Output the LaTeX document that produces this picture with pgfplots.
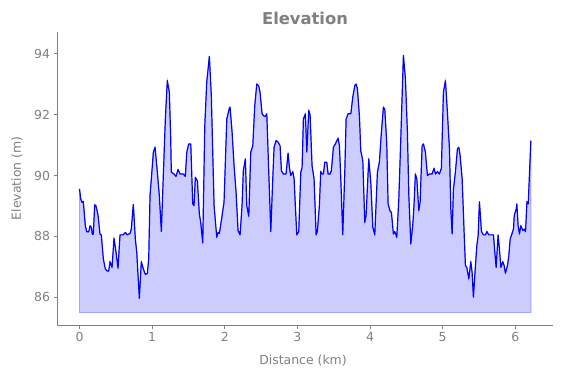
\documentclass[border=0pt]{standalone}
\usepackage{pgfplots}
\pgfplotsset{compat=1.18}
\usepackage{pgfplotstable}
\usepackage{fontspec}
\setmainfont{DejaVu Sans}
\definecolor{txtgray}{HTML}{808080}
\pgfplotstableread{
x y
0.000 89.56
0.017 89.23
0.034 89.12
0.052 89.15
0.080 88.35
0.099 88.15
0.127 88.15
0.145 88.35
0.163 88.30
0.176 88.07
0.190 88.07
0.209 89.04
0.227 89.00
0.255 88.70
0.282 88.07
0.300 88.05
0.328 87.26
0.355 86.93
0.383 86.86
0.402 86.86
0.420 87.17
0.448 86.98
0.475 87.94
0.503 87.48
0.530 86.95
0.558 88.05
0.603 88.05
0.631 88.13
0.658 88.05
0.696 88.10
0.713 88.24
0.741 89.05
0.769 87.91
0.788 87.48
0.824 85.96
0.851 87.17
0.879 86.93
0.906 86.75
0.934 86.78
0.953 87.26
0.971 89.34
0.989 89.89
1.017 90.77
1.040 90.93
1.072 90.11
1.099 89.34
1.127 88.16
1.154 90.00
1.182 91.86
1.209 93.12
1.237 92.74
1.256 91.20
1.264 90.11
1.302 90.05
1.329 89.97
1.357 90.20
1.385 90.05
1.430 90.05
1.457 89.97
1.477 90.77
1.504 91.04
1.532 91.04
1.559 89.07
1.577 89.01
1.595 89.94
1.623 89.83
1.650 88.74
1.669 88.46
1.697 87.78
1.725 91.64
1.752 93.07
1.788 93.92
1.815 92.63
1.853 89.01
1.890 87.97
1.908 88.13
1.926 88.10
1.953 88.52
1.990 89.12
2.028 91.86
2.063 92.21
2.073 92.25
2.101 91.43
2.128 90.33
2.156 89.45
2.183 88.19
2.211 88.05
2.238 89.01
2.256 90.16
2.284 90.55
2.303 89.01
2.331 88.66
2.358 90.77
2.386 90.98
2.413 92.30
2.441 93.01
2.468 92.95
2.486 92.74
2.514 92.03
2.541 91.95
2.559 91.95
2.579 92.03
2.606 90.11
2.634 88.16
2.661 89.89
2.679 90.93
2.707 91.15
2.734 91.10
2.762 90.98
2.780 90.16
2.807 90.05
2.844 90.05
2.872 90.74
2.890 90.27
2.909 90.00
2.937 90.13
2.955 89.89
2.972 89.01
2.992 88.05
3.019 88.16
3.047 90.11
3.065 90.27
3.083 91.86
3.110 92.03
3.130 90.77
3.157 92.14
3.175 92.00
3.202 90.33
3.230 89.89
3.258 88.05
3.275 88.16
3.303 89.01
3.322 90.13
3.340 90.05
3.358 90.05
3.377 90.44
3.405 90.44
3.423 90.05
3.451 90.05
3.468 90.16
3.496 90.93
3.523 91.04
3.561 91.23
3.579 90.98
3.598 89.89
3.625 88.05
3.653 90.11
3.671 91.86
3.698 92.03
3.736 92.03
3.763 92.58
3.791 92.96
3.809 93.01
3.827 92.85
3.854 91.97
3.873 90.82
3.901 90.49
3.928 88.46
3.946 88.68
3.983 90.55
4.011 89.78
4.039 88.30
4.066 88.05
4.102 90.11
4.129 90.44
4.157 91.43
4.185 92.25
4.204 92.17
4.231 91.05
4.249 89.07
4.277 88.83
4.295 88.79
4.322 88.08
4.341 88.16
4.369 87.97
4.397 89.23
4.424 91.20
4.460 93.95
4.488 93.18
4.515 91.43
4.535 89.34
4.562 87.75
4.590 88.41
4.607 89.07
4.625 90.05
4.645 89.89
4.672 88.85
4.690 89.12
4.718 90.98
4.736 91.04
4.763 90.77
4.791 90.00
4.818 90.05
4.855 90.05
4.882 90.24
4.901 90.05
4.928 90.13
4.956 90.05
4.983 90.24
5.011 92.74
5.039 93.12
5.066 92.08
5.094 90.88
5.113 88.90
5.131 88.08
5.149 89.56
5.176 90.11
5.204 90.88
5.223 90.93
5.241 90.66
5.269 89.89
5.296 88.13
5.314 87.04
5.333 86.98
5.361 86.60
5.388 87.17
5.406 86.82
5.424 86.00
5.452 87.04
5.471 87.70
5.489 88.02
5.507 89.14
5.535 88.16
5.562 88.05
5.590 88.05
5.609 88.16
5.636 88.05
5.700 88.05
5.719 87.48
5.737 86.98
5.764 88.05
5.782 87.59
5.802 86.98
5.829 87.17
5.847 87.04
5.865 86.79
5.893 87.04
5.912 87.37
5.930 87.91
5.958 88.11
5.976 88.24
5.986 88.68
6.013 88.90
6.022 89.07
6.040 88.35
6.058 88.08
6.077 88.35
6.105 88.19
6.123 88.24
6.142 88.16
6.161 89.14
6.179 89.07
6.215 91.15
}\elev
\begin{document}
\begin{tikzpicture}
\useasboundingbox (0,0) rectangle (563bp,378bp);
\begin{axis}[
  at={(57bp,52.5bp)}, anchor=south west,
  width=496bp, height=293.5bp, scale only axis,
  xmin=-0.31, xmax=6.52, ymin=85.07, ymax=94.72,
  axis x line*=bottom, axis y line*=left,
  axis line style={txtgray, line width=0.8pt},
  xtick={0,1,2,3,4,5,6}, ytick={86,88,90,92,94},
  tick align=outside, major tick length=3.5bp,
  tick style={txtgray, line width=0.8pt},
  /pgf/number format/assume math mode=true,
  ticklabel style={font=\fontsize{12.5}{14}\selectfont, text=txtgray},
]
\addplot[fill=blue!20, draw=blue!36, line width=0.8pt] table[x=x,y=y] {\elev} -- (axis cs:6.215,85.5) -- (axis cs:0,85.5) -- cycle;
\addplot[draw=blue, line width=1.2pt, line join=round] table[x=x,y=y] {\elev};
\end{axis}
\node[font=\bfseries\fontsize{16.4}{18}\selectfont, text=txtgray] at (305bp,360bp) {Elevation};
\node[font=\fontsize{12.5}{14}\selectfont, text=txtgray] at (303bp,17bp) {Distance (km)};
\node[font=\fontsize{12.5}{14}\selectfont, text=txtgray, rotate=90] at (17bp,199.5bp) {Elevation (m)};
\end{tikzpicture}
\end{document}
